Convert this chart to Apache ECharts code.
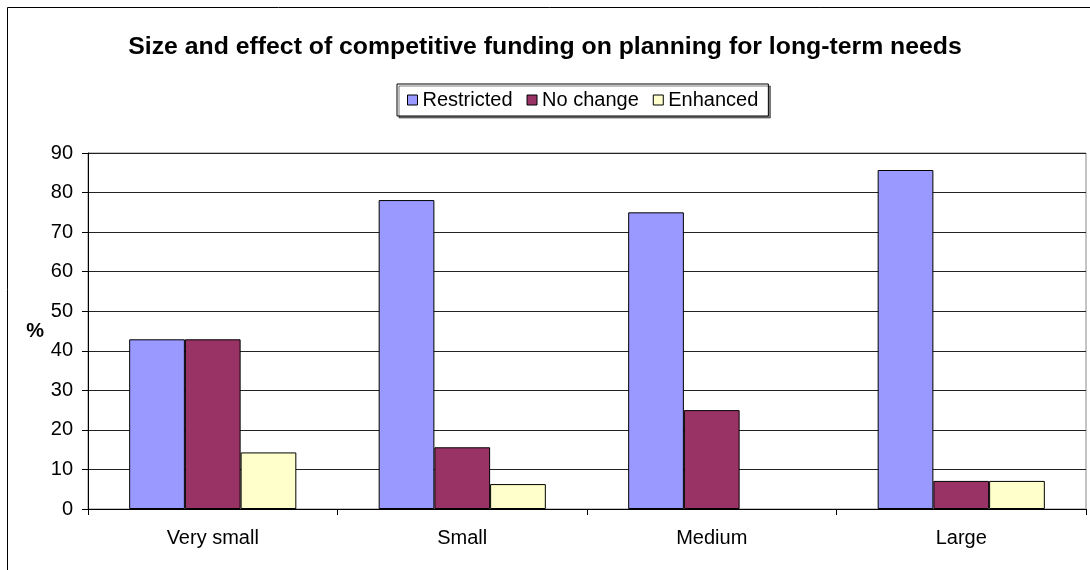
<!DOCTYPE html>
<html><head><meta charset="utf-8">
<script src="https://cdn.jsdelivr.net/npm/echarts@6/dist/echarts.min.js"></script>
<style>html,body{margin:0;padding:0;background:#fff}#c{width:1090px;height:570px}</style>
</head><body><div id="c"></div>
<script>
const categories = ['Very small', 'Small', 'Medium', 'Large'];
const restricted = [42.9, 78.1, 75.0, 85.7];
const noChange = [42.9, 15.6, 25.0, 7.1];
const enhanced = [14.3, 6.3, 0, 7.1];
const yTicks = { min: 0, max: 90, interval: 10 };

const font = 'Liberation Sans, Arial, sans-serif';
const chart = echarts.init(document.getElementById('c'));
function bar(name, data, color) {
  return { name, type: 'bar', barGap: '0%', barCategoryGap: '33%',
    data: data.map(v => v === 0 ? { value: v, itemStyle: { borderWidth: 0 } } : v),
    itemStyle: { color, borderColor: '#000', borderWidth: 1 } };
}
chart.setOption({
  animation: false,
  backgroundColor: '#fff',
  textStyle: { fontFamily: font },
  graphic: [{ type: 'rect', shape: { x: 7.5, y: 7.5, width: 1200, height: 700 },
    style: { fill: 'none', stroke: '#000', lineWidth: 1 }, z: -1 }],
  title: { text: 'Size and effect of competitive funding on planning for long-term needs',
    left: 'center', top: 30,
    textStyle: { fontFamily: font, fontSize: 24.8, fontWeight: 'bold', color: '#000' } },
  legend: { top: 84, left: 397, icon: 'rect', itemWidth: 10, itemHeight: 10, itemGap: 14,
    borderColor: '#000', borderWidth: 1, padding: [6, 10, 6, 10],
    shadowColor: 'rgba(0,0,0,0.5)', shadowOffsetX: 2, shadowOffsetY: 2, shadowBlur: 0,
    backgroundColor: '#fff',
    textStyle: { fontFamily: font, fontSize: 20, color: '#000' },
    itemStyle: { borderColor: '#000', borderWidth: 1 } },
  grid: { left: 88, right: 4, top: 153, bottom: 61, show: true, borderColor: '#888', borderWidth: 1 },
  xAxis: { type: 'category', data: categories,
    axisLine: { lineStyle: { color: '#000' } },
    axisTick: { show: true, length: 6, lineStyle: { color: '#000' } },
    axisLabel: { fontFamily: font, fontSize: 20, color: '#000', margin: 19 } },
  yAxis: { type: 'value', min: yTicks.min, max: yTicks.max, interval: yTicks.interval,
    name: '%', nameLocation: 'middle', nameGap: 44, nameRotate: 0,
    nameTextStyle: { fontFamily: font, fontSize: 20, fontWeight: 'bold', color: '#000' },
    axisLine: { show: true, lineStyle: { color: '#000' } },
    axisTick: { show: true, length: 6, lineStyle: { color: '#000' } },
    axisLabel: { fontFamily: font, fontSize: 20, color: '#000', margin: 15 },
    splitLine: { lineStyle: { color: '#222', width: 1 } } },
  series: [
    bar('Restricted', restricted, '#9999FF'),
    bar('No change', noChange, '#993366'),
    bar('Enhanced', enhanced, '#FFFFCC')
  ]
});
</script></body></html>
